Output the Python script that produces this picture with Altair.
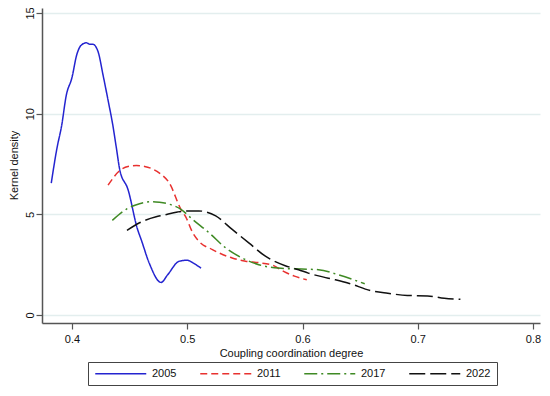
import altair as alt
import pandas as pd

years = ["2005", "2011", "2017", "2022"]
colors = ["#2424d0", "#e8312f", "#3f8a24", "#111111"]
dashes = [[1, 0], [7, 4], [13, 4, 2, 4], [16, 5]]

x2005 = [0.382, 0.387, 0.391, 0.395, 0.400, 0.404, 0.408, 0.4125, 0.4155, 0.418, 0.4225, 0.427, 0.431,
         0.4355, 0.4385, 0.4415, 0.4485, 0.4569, 0.460, 0.467, 0.4773, 0.483, 0.493, 0.500, 0.506, 0.512]
y2005 = [6.55, 8.3, 9.4, 10.9, 11.8, 12.9, 13.4, 13.52, 13.45, 13.45, 13.1, 11.9, 10.75,
         9.4, 8.3, 7.2, 6.25, 4.25, 3.75, 2.58, 1.62, 2.0, 2.67, 2.72, 2.55, 2.33]

x2011 = [0.4313, 0.4414, 0.4486, 0.4558, 0.463, 0.470, 0.4759, 0.4845, 0.4945, 0.4989, 0.5046, 0.510,
         0.5218, 0.539, 0.5506, 0.562, 0.575, 0.5836, 0.593, 0.6037]
y2011 = [6.45, 7.17, 7.38, 7.42, 7.38, 7.25, 7.05, 6.55, 5.25, 4.85, 4.1, 3.67,
         3.25, 2.83, 2.67, 2.6, 2.45, 2.17, 1.93, 1.75]

x2017 = [0.435, 0.447, 0.4586, 0.470, 0.4759, 0.4845, 0.4945, 0.5046, 0.519, 0.5334, 0.5477, 0.562,
         0.579, 0.5994, 0.6138, 0.631, 0.654]
y2017 = [4.7, 5.25, 5.53, 5.63, 5.6, 5.5, 5.25, 4.75, 4.08, 3.33, 2.83, 2.5,
         2.33, 2.28, 2.25, 2.0, 1.55]

x2022 = [0.4477, 0.4586, 0.473, 0.4787, 0.4916, 0.500, 0.510, 0.5247, 0.539, 0.5534, 0.5678, 0.585,
         0.5966, 0.605, 0.6224, 0.64, 0.66, 0.674, 0.691, 0.7086, 0.723, 0.737]
y2022 = [4.2, 4.58, 4.88, 4.95, 5.12, 5.17, 5.17, 4.92, 4.25, 3.58, 2.92, 2.45,
         2.25, 2.08, 1.83, 1.58, 1.2, 1.08, 0.97, 0.95, 0.83, 0.78]

xticks = [0.4, 0.5, 0.6, 0.7, 0.8]
yticks = [0, 5, 10, 15]

rows = []
for yr, xs, ys in zip(years, [x2005, x2011, x2017, x2022], [y2005, y2011, y2017, y2022]):
    for i, (a, b) in enumerate(zip(xs, ys)):
        rows.append({"year": yr, "x": a, "y": b, "i": i})
df = pd.DataFrame(rows)

FONT = "Liberation Sans"

# long horizontal stroke symbol (custom path, so the entry stays short)
SYMBOL = "M-1,0H11"


def make_legend():
    return alt.Legend(title=None, orient="none", direction="horizontal",
                      legendX=46, legendY=354, symbolType=SYMBOL,
                      symbolSize=72.25, symbolStrokeWidth=1.5,
                      labelOffset=47, columnPadding=20, padding=6,
                      strokeColor="#444444", labelFontSize=11,
                      labelFont=FONT, labelColor="#111111")


chart = alt.Chart(df).mark_line(strokeWidth=1.5, interpolate="monotone").encode(
    x=alt.X("x:Q",
            scale=alt.Scale(domain=[0.37397, 0.80607], nice=False, zero=False),
            axis=alt.Axis(values=xticks, format=".1f", title="Coupling coordination degree",
                          grid=False, tickSize=6, labelPadding=4, titlePadding=3)),
    y=alt.Y("y:Q",
            scale=alt.Scale(domain=[-0.397, 15.248], nice=False, zero=False),
            axis=alt.Axis(values=yticks, title="Kernel density", grid=True,
                          gridColor="#e3eeee", gridWidth=1.5, tickSize=6,
                          labelAngle=270, labelAlign="center", labelBaseline="alphabetic",
                          labelPadding=3, titleX=-28, titleY=157, titleAngle=270,
                          titleAlign="center", titleBaseline="middle")),
    color=alt.Color("year:N", scale=alt.Scale(domain=years, range=colors), legend=make_legend()),
    strokeDash=alt.StrokeDash("year:N", scale=alt.Scale(domain=years, range=dashes),
                              legend=make_legend()),
    order="i:Q",
).properties(
    width=498, height=315,
    autosize=alt.AutoSizeParams(type="none"),
    padding={"left": 34, "top": 0, "right": 2, "bottom": 65},
).configure_view(stroke=None).configure_axis(
    domainColor="#555555", domainWidth=1.5, tickColor="#555555", tickWidth=1.2,
    labelFont=FONT, titleFont=FONT, labelFontSize=11, titleFontSize=11,
    labelColor="#111111", titleColor="#111111", titleFontWeight="normal",
)

chart.save("out.html", embed_options={"renderer": "svg", "actions": False})
